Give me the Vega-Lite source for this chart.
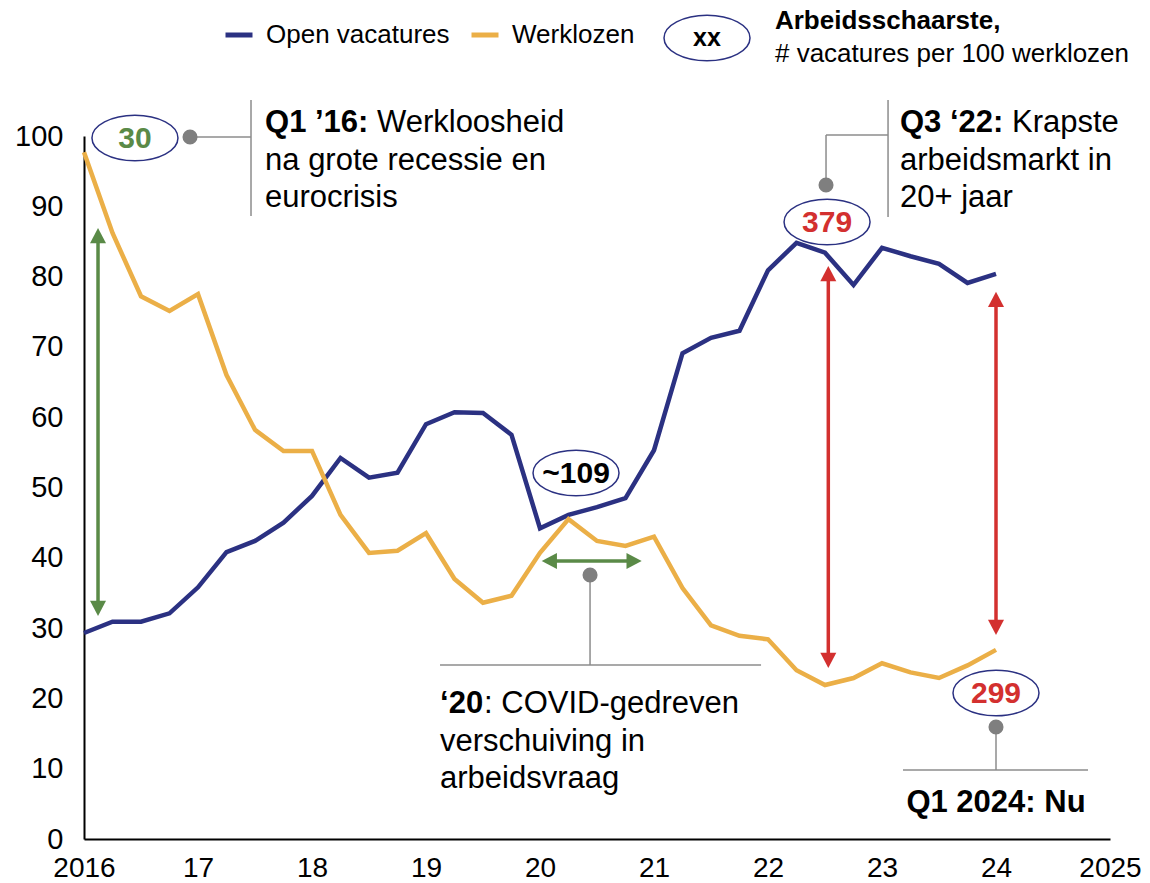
{
  "$schema": "https://vega.github.io/schema/vega-lite/v6.json",
  "width": 1026,
  "height": 703,
  "autosize": {"type": "none"},
  "padding": {"left": 84, "top": 136, "right": 40, "bottom": 44},
  "background": "white",
  "config": {
    "font": "Liberation Sans",
    "view": {"stroke": null},
    "axis": {"labelFont": "Liberation Sans", "labelColor": "black", "grid": false, "ticks": false, "domainColor": "black", "domainWidth": 2, "title": null},
    "legend": {"labelFont": "Liberation Sans"}
  },
  "datasets": {
    "series": [
      {"x": 2016.00, "series": "Open vacatures", "y": 29.3}, {"x": 2016.00, "series": "Werklozen", "y": 97.7},
      {"x": 2016.25, "series": "Open vacatures", "y": 30.9}, {"x": 2016.25, "series": "Werklozen", "y": 86.2},
      {"x": 2016.50, "series": "Open vacatures", "y": 30.9}, {"x": 2016.50, "series": "Werklozen", "y": 77.2},
      {"x": 2016.75, "series": "Open vacatures", "y": 32.1}, {"x": 2016.75, "series": "Werklozen", "y": 75.1},
      {"x": 2017.00, "series": "Open vacatures", "y": 35.8}, {"x": 2017.00, "series": "Werklozen", "y": 77.5},
      {"x": 2017.25, "series": "Open vacatures", "y": 40.8}, {"x": 2017.25, "series": "Werklozen", "y": 66.0},
      {"x": 2017.50, "series": "Open vacatures", "y": 42.4}, {"x": 2017.50, "series": "Werklozen", "y": 58.2},
      {"x": 2017.75, "series": "Open vacatures", "y": 45.0}, {"x": 2017.75, "series": "Werklozen", "y": 55.2},
      {"x": 2018.00, "series": "Open vacatures", "y": 48.8}, {"x": 2018.00, "series": "Werklozen", "y": 55.2},
      {"x": 2018.25, "series": "Open vacatures", "y": 54.2}, {"x": 2018.25, "series": "Werklozen", "y": 46.1},
      {"x": 2018.50, "series": "Open vacatures", "y": 51.4}, {"x": 2018.50, "series": "Werklozen", "y": 40.7},
      {"x": 2018.75, "series": "Open vacatures", "y": 52.1}, {"x": 2018.75, "series": "Werklozen", "y": 41.0},
      {"x": 2019.00, "series": "Open vacatures", "y": 59.0}, {"x": 2019.00, "series": "Werklozen", "y": 43.5},
      {"x": 2019.25, "series": "Open vacatures", "y": 60.7}, {"x": 2019.25, "series": "Werklozen", "y": 37.0},
      {"x": 2019.50, "series": "Open vacatures", "y": 60.6}, {"x": 2019.50, "series": "Werklozen", "y": 33.6},
      {"x": 2019.75, "series": "Open vacatures", "y": 57.5}, {"x": 2019.75, "series": "Werklozen", "y": 34.6},
      {"x": 2020.00, "series": "Open vacatures", "y": 44.2}, {"x": 2020.00, "series": "Werklozen", "y": 40.7},
      {"x": 2020.25, "series": "Open vacatures", "y": 46.1}, {"x": 2020.25, "series": "Werklozen", "y": 45.5},
      {"x": 2020.50, "series": "Open vacatures", "y": 47.2}, {"x": 2020.50, "series": "Werklozen", "y": 42.4},
      {"x": 2020.75, "series": "Open vacatures", "y": 48.5}, {"x": 2020.75, "series": "Werklozen", "y": 41.7},
      {"x": 2021.00, "series": "Open vacatures", "y": 55.3}, {"x": 2021.00, "series": "Werklozen", "y": 43.0},
      {"x": 2021.25, "series": "Open vacatures", "y": 69.1}, {"x": 2021.25, "series": "Werklozen", "y": 35.7},
      {"x": 2021.50, "series": "Open vacatures", "y": 71.3}, {"x": 2021.50, "series": "Werklozen", "y": 30.4},
      {"x": 2021.75, "series": "Open vacatures", "y": 72.3}, {"x": 2021.75, "series": "Werklozen", "y": 28.9},
      {"x": 2022.00, "series": "Open vacatures", "y": 80.9}, {"x": 2022.00, "series": "Werklozen", "y": 28.4},
      {"x": 2022.25, "series": "Open vacatures", "y": 84.8}, {"x": 2022.25, "series": "Werklozen", "y": 24.0},
      {"x": 2022.50, "series": "Open vacatures", "y": 83.4}, {"x": 2022.50, "series": "Werklozen", "y": 21.9},
      {"x": 2022.75, "series": "Open vacatures", "y": 78.8}, {"x": 2022.75, "series": "Werklozen", "y": 22.9},
      {"x": 2023.00, "series": "Open vacatures", "y": 84.1}, {"x": 2023.00, "series": "Werklozen", "y": 25.0},
      {"x": 2023.25, "series": "Open vacatures", "y": 82.9}, {"x": 2023.25, "series": "Werklozen", "y": 23.7},
      {"x": 2023.50, "series": "Open vacatures", "y": 81.8}, {"x": 2023.50, "series": "Werklozen", "y": 22.9},
      {"x": 2023.75, "series": "Open vacatures", "y": 79.1}, {"x": 2023.75, "series": "Werklozen", "y": 24.7},
      {"x": 2024.00, "series": "Open vacatures", "y": 80.4}, {"x": 2024.00, "series": "Werklozen", "y": 26.9}
    ],
    "leaders": [
      {"x": 2016.93, "y": 99.86, "x2": 2017.465, "y2": 99.86},
      {"x": 2017.465, "y": 105.12, "x2": 2017.465, "y2": 88.62},
      {"x": 2022.509, "y": 93.03, "x2": 2022.509, "y2": 100.14},
      {"x": 2022.509, "y": 100.14, "x2": 2023.053, "y2": 100.14},
      {"x": 2023.053, "y": 105.12, "x2": 2023.053, "y2": 88.48},
      {"x": 2020.439, "y": 37.55, "x2": 2020.439, "y2": 24.75},
      {"x": 2019.123, "y": 24.75, "x2": 2021.939, "y2": 24.75},
      {"x": 2024.0, "y": 15.93, "x2": 2024.0, "y2": 9.815},
      {"x": 2023.184, "y": 9.815, "x2": 2024.807, "y2": 9.815}
    ],
    "arrows": [
      {"x": 2016.123, "y": 85.9, "x2": 2016.123, "y2": 32.72, "tone": "green"},
      {"x": 2022.529, "y": 80.5, "x2": 2022.529, "y2": 25.32, "tone": "red"},
      {"x": 2024.0, "y": 76.85, "x2": 2024.0, "y2": 30.02, "tone": "red"},
      {"x": 2020.085, "y": 39.55, "x2": 2020.822, "y2": 39.55, "tone": "green"}
    ],
    "heads": [
      {"x": 2016.123, "y": 86.91, "dir": "up", "tone": "green"},
      {"x": 2016.123, "y": 31.72, "dir": "down", "tone": "green"},
      {"x": 2022.529, "y": 81.51, "dir": "up", "tone": "red"},
      {"x": 2022.529, "y": 24.32, "dir": "down", "tone": "red"},
      {"x": 2024.0, "y": 77.85, "dir": "up", "tone": "red"},
      {"x": 2024.0, "y": 29.02, "dir": "down", "tone": "red"},
      {"x": 2020.015, "y": 39.55, "dir": "left", "tone": "green"},
      {"x": 2020.892, "y": 39.55, "dir": "right", "tone": "green"}
    ],
    "dots": [
      {"x": 2016.93, "y": 99.86},
      {"x": 2022.509, "y": 93.03},
      {"x": 2020.439, "y": 37.55},
      {"x": 2024.0, "y": 15.93}
    ],
    "ellipses": [
      {"x": 2016.447, "y": 99.72, "label": "30", "tone": "green"},
      {"x": 2022.518, "y": 87.77, "label": "379", "tone": "red"},
      {"x": 2020.316, "y": 52.06, "label": "~109", "tone": "black"},
      {"x": 2024.0, "y": 20.77, "label": "299", "tone": "red"},
      {"x": 2021.465, "y": 113.94, "label": "xx", "tone": "key"}
    ],
    "notes": [
      {"x": 2018.57, "y": 100.57, "text": "Werkloosheid"},
      {"x": 2017.588, "y": 95.16, "text": "na grote recessie en"},
      {"x": 2017.588, "y": 89.9, "text": "eurocrisis"},
      {"x": 2024.14, "y": 100.57, "text": "Krapste"},
      {"x": 2023.158, "y": 95.16, "text": "arbeidsmarkt in"},
      {"x": 2023.158, "y": 89.9, "text": "20+ jaar"},
      {"x": 2019.509, "y": 17.92, "text": ": COVID-gedreven"},
      {"x": 2019.123, "y": 12.52, "text": "verschuiving in"},
      {"x": 2019.123, "y": 7.25, "text": "arbeidsvraag"}
    ],
    "notesBold": [
      {"x": 2017.588, "y": 100.57, "text": "Q1 ’16:"},
      {"x": 2023.158, "y": 100.57, "text": "Q3 ‘22:"},
      {"x": 2019.123, "y": 17.92, "text": "‘20"}
    ],
    "notesCenter": [
      {"x": 2024.0, "y": 3.84, "text": "Q1 2024: Nu"}
    ],
    "keyBold": [
      {"x": 2022.061, "y": 115.2, "text": "Arbeidsschaarste,"}
    ],
    "keyText": [
      {"x": 2022.061, "y": 110.5, "text": "# vacatures per 100 werklozen"}
    ]
  },
  "layer": [
    {
      "data": {"name": "leaders"},
      "mark": {"type": "rule", "color": "#8C8C8C", "strokeWidth": 1.5},
      "encoding": {
        "x": {"field": "x", "type": "quantitative", "scale": {"domain": [2016, 2025], "nice": false, "zero": false},
              "axis": {"values": [2016, 2017, 2018, 2019, 2020, 2021, 2022, 2023, 2024, 2025], "labelExpr": "datum.value == 2016 || datum.value == 2025 ? '' + datum.value : '' + (datum.value - 2000)", "labelFontSize": 28, "labelPadding": 15, "labelFlush": false, "labelOverlap": false}},
        "y": {"field": "y", "type": "quantitative", "scale": {"domain": [0, 100], "nice": false, "zero": true},
              "axis": {"values": [0, 10, 20, 30, 40, 50, 60, 70, 80, 90, 100], "labelFontSize": 29, "labelPadding": 21}},
        "x2": {"field": "x2"},
        "y2": {"field": "y2"}
      }
    },
    {
      "data": {"name": "series"},
      "mark": {"type": "line", "strokeWidth": 4.5, "strokeJoin": "miter"},
      "encoding": {
        "x": {"field": "x", "type": "quantitative"},
        "y": {"field": "y", "type": "quantitative"},
        "color": {"field": "series", "type": "nominal",
                  "scale": {"domain": ["Open vacatures", "Werklozen"], "range": ["#2B3182", "#EBAF47"]},
                  "legend": {"orient": "none", "legendX": 139, "legendY": -117, "direction": "horizontal", "title": null,
                             "symbolType": "stroke", "symbolStrokeWidth": 5, "symbolSize": 729, "labelFontSize": 26,
                             "labelOffset": 11, "columnPadding": 11, "padding": 0, "labelColor": "black", "labelLimit": 400}}
      }
    },
    {
      "data": {"name": "arrows"},
      "mark": {"type": "rule", "strokeWidth": 3.5},
      "encoding": {
        "x": {"field": "x", "type": "quantitative"},
        "y": {"field": "y", "type": "quantitative"},
        "x2": {"field": "x2"},
        "y2": {"field": "y2"},
        "color": {"condition": {"test": "datum.tone === 'red'", "value": "#D3302F"}, "value": "#5A8A47"}
      }
    },
    {
      "data": {"name": "heads"},
      "mark": {"type": "point", "filled": true, "size": 256, "opacity": 1, "strokeWidth": 0},
      "encoding": {
        "x": {"field": "x", "type": "quantitative"},
        "y": {"field": "y", "type": "quantitative"},
        "shape": {"field": "dir", "type": "nominal", "legend": null,
                  "scale": {"domain": ["up", "down", "left", "right"],
                            "range": ["M0,0L-1,1.9L1,1.9Z", "M0,0L-1,-1.9L1,-1.9Z", "M0,0L1.9,-1L1.9,1Z", "M0,0L-1.9,-1L-1.9,1Z"]}},
        "color": {"condition": {"test": "datum.tone === 'red'", "value": "#D3302F"}, "value": "#5A8A47"}
      }
    },
    {
      "data": {"name": "dots"},
      "mark": {"type": "point", "filled": true, "shape": "circle", "size": 227, "opacity": 1, "color": "#7F7F7F"},
      "encoding": {
        "x": {"field": "x", "type": "quantitative"},
        "y": {"field": "y", "type": "quantitative"}
      }
    },
    {
      "data": {"name": "ellipses"},
      "mark": {"type": "point", "filled": true, "fill": "white", "stroke": "#2B3182", "strokeWidth": 1.5, "opacity": 1,
               "size": 7396,
               "shape": "M-1,0C-1,-0.2927,-0.5523,-0.53,0,-0.53C0.5523,-0.53,1,-0.2927,1,0C1,0.2927,0.5523,0.53,0,0.53C-0.5523,0.53,-1,0.2927,-1,0Z"},
      "encoding": {
        "x": {"field": "x", "type": "quantitative"},
        "y": {"field": "y", "type": "quantitative"}
      }
    },
    {
      "data": {"name": "ellipses"},
      "transform": [{"filter": "datum.tone !== 'key'"}],
      "mark": {"type": "text", "fontSize": 30, "fontWeight": "bold", "align": "center", "baseline": "middle", "dy": 1},
      "encoding": {
        "x": {"field": "x", "type": "quantitative"},
        "y": {"field": "y", "type": "quantitative"},
        "text": {"field": "label"},
        "color": {"condition": [{"test": "datum.tone === 'red'", "value": "#D3302F"}, {"test": "datum.tone === 'green'", "value": "#5A8A47"}], "value": "#000000"}
      }
    },
    {
      "data": {"name": "ellipses"},
      "transform": [{"filter": "datum.tone === 'key'"}],
      "mark": {"type": "text", "fontSize": 25, "fontWeight": "bold", "align": "center", "baseline": "middle", "color": "#000000"},
      "encoding": {
        "x": {"field": "x", "type": "quantitative"},
        "y": {"field": "y", "type": "quantitative"},
        "text": {"field": "label"}
      }
    },
    {
      "data": {"name": "notes"},
      "mark": {"type": "text", "fontSize": 31, "align": "left", "baseline": "alphabetic", "color": "#000000"},
      "encoding": {
        "x": {"field": "x", "type": "quantitative"},
        "y": {"field": "y", "type": "quantitative"},
        "text": {"field": "text"}
      }
    },
    {
      "data": {"name": "notesBold"},
      "mark": {"type": "text", "fontSize": 31, "fontWeight": "bold", "align": "left", "baseline": "alphabetic", "color": "#000000"},
      "encoding": {
        "x": {"field": "x", "type": "quantitative"},
        "y": {"field": "y", "type": "quantitative"},
        "text": {"field": "text"}
      }
    },
    {
      "data": {"name": "notesCenter"},
      "mark": {"type": "text", "fontSize": 31, "fontWeight": "bold", "align": "center", "baseline": "alphabetic", "color": "#000000"},
      "encoding": {
        "x": {"field": "x", "type": "quantitative"},
        "y": {"field": "y", "type": "quantitative"},
        "text": {"field": "text"}
      }
    },
    {
      "data": {"name": "keyBold"},
      "mark": {"type": "text", "fontSize": 26, "fontWeight": "bold", "align": "left", "baseline": "alphabetic", "color": "#000000"},
      "encoding": {
        "x": {"field": "x", "type": "quantitative"},
        "y": {"field": "y", "type": "quantitative"},
        "text": {"field": "text"}
      }
    },
    {
      "data": {"name": "keyText"},
      "mark": {"type": "text", "fontSize": 26, "align": "left", "baseline": "alphabetic", "color": "#000000"},
      "encoding": {
        "x": {"field": "x", "type": "quantitative"},
        "y": {"field": "y", "type": "quantitative"},
        "text": {"field": "text"}
      }
    }
  ]
}
